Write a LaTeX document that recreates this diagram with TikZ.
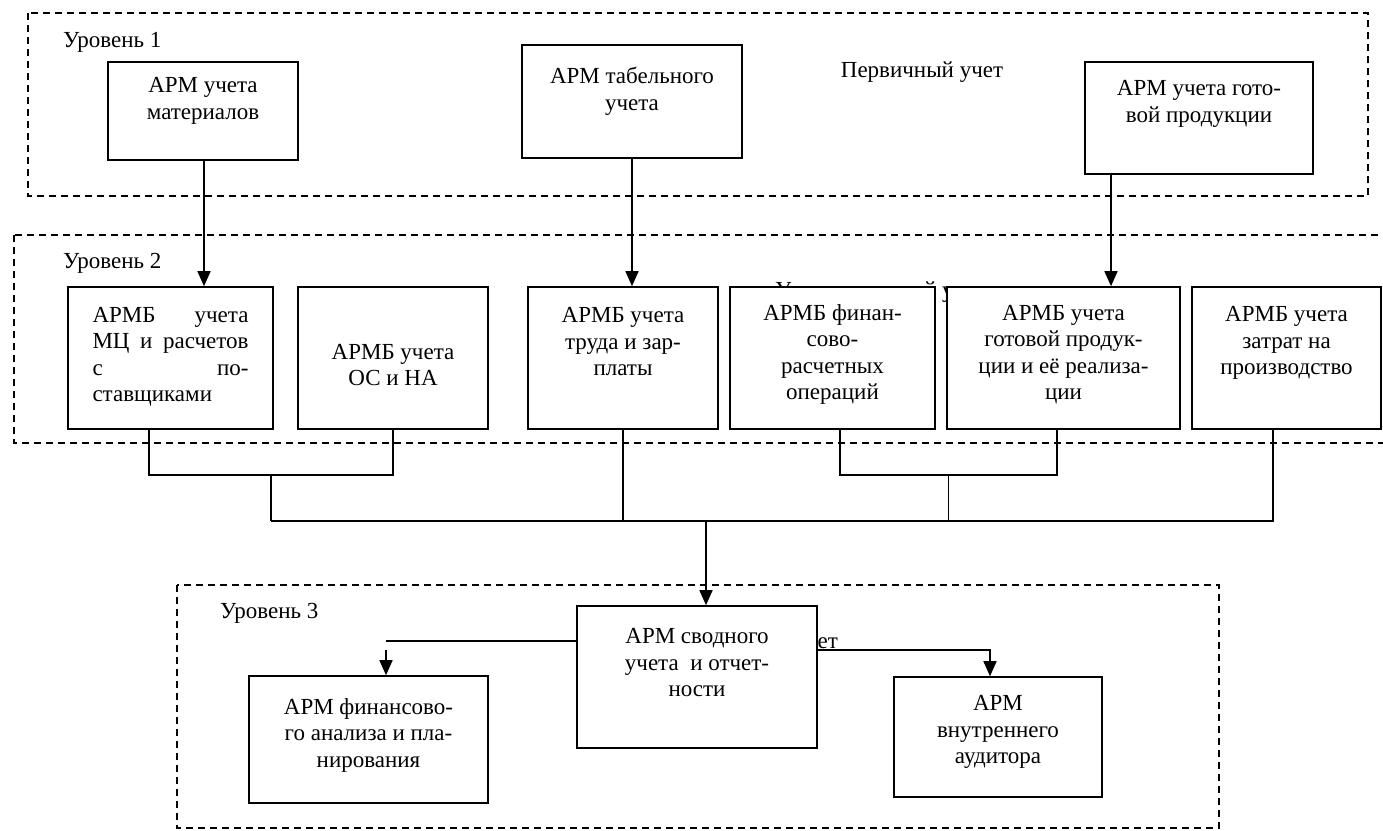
\documentclass[tikz,border=0pt]{standalone}
\usepackage{fontspec}
\setmainfont{Liberation Serif}
\usetikzlibrary{arrows.meta}
\begin{document}
\begin{tikzpicture}[x=1pt,y=-1pt,
  lvl/.style={draw, line width=1.5pt, dash pattern=on 7pt off 5pt},
  box/.style={draw, fill=white, line width=1.6pt, inner sep=0pt},
  txt/.style={font=\fontsize{23}{26.5}\selectfont, align=center, inner sep=0pt},
  lab/.style={font=\fontsize{23}{26.5}\selectfont, inner sep=0pt},
  wire/.style={line width=1.6pt},
  arr/.style={line width=1.6pt, -{Triangle[length=15pt,width=13pt]}}]
\useasboundingbox (0,0) rectangle (1383,830);
\clip (0,0) rectangle (1383,830);
% level frames
\draw[lvl] (28,13) rectangle (1368,196);
\draw[lvl] (14,235) rectangle (1400,443);
\draw[lvl] (177,585) rectangle (1219,828);
% level labels
\node[lab, anchor=west] (l1) at (63,42) {Уровень 1};
\node[lab, anchor=west] (l2) at (63,263) {Уровень 2};
\node[lab, anchor=west] (l3) at (220,613) {Уровень 3};
\node[lab] (p1) at (922,72) {Первичный учет};
\node[lab, anchor=base west] (p2) at (775,297) {Управленческий учет};
\node[lab, anchor=base east] (p3) at (838,648) {Сводный учет};
% level 1 boxes
\node[box, minimum width=190pt, minimum height=98pt] (b1) at (203,111) {};
\node[txt] (b1t) at (203,101) {АРМ учета\\материалов};
\node[box, minimum width=220pt, minimum height=113pt] (b2) at (632,101.5) {};
\node[txt] (b2t) at (632,91) {АРМ табельного\\учета};
\node[box, minimum width=228pt, minimum height=112pt] (b3) at (1199,118) {};
\node[txt] (b3t) at (1199,104) {АРМ учета гото-\\вой продукции};
% level 2 boxes
\node[box, minimum width=205pt, minimum height=142pt] (c1) at (170.5,358) {};
\node[txt, text width=156pt, align=left] (c1t) at (170.5,357) {АРМБ\hfill учета\\МЦ\hfill и\hfill расчетов\\с\hfill по-\\ставщиками};
\node[box, minimum width=190pt, minimum height=142pt] (c2) at (393,358) {};
\node[txt] (c2t) at (393,365) {АРМБ учета\\ОС и НА};
\node[box, minimum width=190pt, minimum height=142pt] (c3) at (623,358) {};
\node[txt] (c3t) at (623,342) {АРМБ учета\\труда и зар-\\платы};
\node[box, minimum width=205pt, minimum height=142pt] (c4) at (832.5,358) {};
\node[txt] (c4t) at (832.5,354.5) {АРМБ финан-\\сово-\\расчетных\\операций};
\node[box, minimum width=233pt, minimum height=142pt] (c5) at (1063.5,358) {};
\node[txt] (c5t) at (1063.5,354.5) {АРМБ учета\\готовой продук-\\ции и её реализа-\\ции};
\node[box, minimum width=189pt, minimum height=142pt] (c6) at (1286.5,358) {};
\node[txt] (c6t) at (1286.5,343) {АРМБ учета\\затрат на\\производство};
% level 3 boxes
\node[box, minimum width=240pt, minimum height=142pt] (d1) at (697,677) {};
\node[txt] (d1t) at (697,663) {АРМ сводного\\учета\ \ и отчет-\\ности};
\node[box, minimum width=239pt, minimum height=127pt] (d2) at (368.5,739.5) {};
\node[txt] (d2t) at (368.5,735) {АРМ финансово-\\го анализа и пла-\\нирования};
\node[box, minimum width=208pt, minimum height=120pt] (d3) at (998,737) {};
\node[txt] (d3t) at (998,732) {АРМ\\внутреннего\\аудитора};
% level 1 -> level 2 arrows
\coordinate (a1) at (204,0);
\coordinate (a3) at (1111,0);
\draw[arr] (a1 |- b1.south) -- (a1 |- c1.north);
\draw[arr] (b2.south) -- (b2.south |- c3.north);
\draw[arr] (a3 |- b3.south) -- (a3 |- c5.north);
% level 2 collectors
\coordinate (k1) at (149,475);
\coordinate (k2) at (393,475);
\coordinate (k4) at (840,475);
\coordinate (k5) at (1057,475);
\coordinate (m1) at (271,475);
\coordinate (m2) at (948.5,475);
\coordinate (busL) at (271,521);
\coordinate (busR) at (1273,521);
\coordinate (hub) at (706,521);
\draw[wire] (k1 |- c1.south) -- (k1) -- (k2) -- (k2 |- c2.south);
\draw[wire] (m1) -- (busL);
\draw[wire] (k4 |- c4.south) -- (k4) -- (k5) -- (k5 |- c5.south);
\draw[wire] (m2) -- (m2 |- busL);
\draw[wire] (c3.south) -- (c3.south |- busL);
\draw[wire] (busL) -- (busR) -- (busR |- c6.south);
\draw[arr] (hub) -- (hub |- d1.north);
% level 3 links
\coordinate (lk) at (386,641);
\coordinate (la) at (386,650);
\coordinate (rk) at (990,650);
\draw[wire] (lk -| d1.west) -- (lk);
\draw[arr] (la) -- (la |- d2.north);
\draw[arr] (rk -| d1.east) -- (rk) -- (rk |- d3.north);
\end{tikzpicture}
\end{document}
